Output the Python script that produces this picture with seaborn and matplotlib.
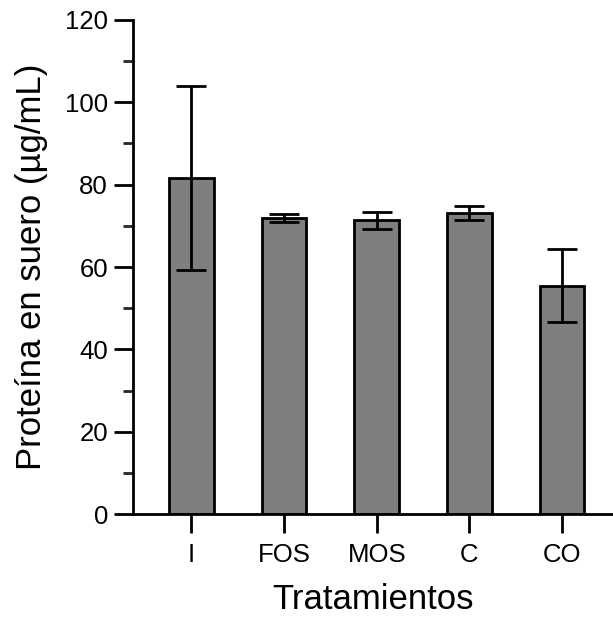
import matplotlib
matplotlib.use("Agg")
import matplotlib.pyplot as plt
import seaborn as sns
import pandas as pd
import numpy as np
from matplotlib.ticker import MultipleLocator

categories = ["I", "FOS", "MOS", "C", "CO"]
means = [81.7, 71.9, 71.3, 73.0, 55.5]
errors = [22.3, 1.0, 2.0, 1.7, 8.8]

sns.set_theme(style="ticks")
plt.rcParams['font.family'] = ['Liberation Sans', 'DejaVu Sans']

df = pd.DataFrame({"Tratamiento": categories, "Proteina": means})

fig = plt.figure(figsize=(6.13, 6.21), dpi=100)
ax = fig.add_axes([0.217, 0.172, 0.783, 0.796])

sns.barplot(data=df, x="Tratamiento", y="Proteina", order=categories,
            color="#7f7f7f", saturation=1, width=0.48,
            edgecolor="black", linewidth=2, errorbar=None, ax=ax, zorder=2)
for p in ax.patches:
    p.set_facecolor("#7f7f7f")

ax.errorbar(np.arange(len(categories)), means, yerr=errors, fmt="none",
            ecolor="black", elinewidth=2, capsize=11, capthick=2, zorder=3)

ax.set_ylim(0, 120)
ax.set_xlim(-0.63, 4.55)
ax.yaxis.set_major_locator(MultipleLocator(20))
ax.yaxis.set_minor_locator(MultipleLocator(10))

for s in ["top", "right"]:
    ax.spines[s].set_visible(False)
for s in ["left", "bottom"]:
    ax.spines[s].set_linewidth(2)
    ax.spines[s].set_color("black")

ax.tick_params(axis="y", which="major", length=14, width=2, labelsize=18.5, colors="black", pad=4)
ax.tick_params(axis="y", which="minor", length=7, width=2)
ax.tick_params(axis="x", which="major", length=14, width=2, labelsize=18.5, colors="black", pad=7)

ax.set_xlabel("Tratamientos", fontsize=25, labelpad=11, color="black")
ax.set_ylabel("Proteína en suero (µg/mL)", fontsize=25, labelpad=12, color="black")

fig.savefig("out.png", dpi=100)
